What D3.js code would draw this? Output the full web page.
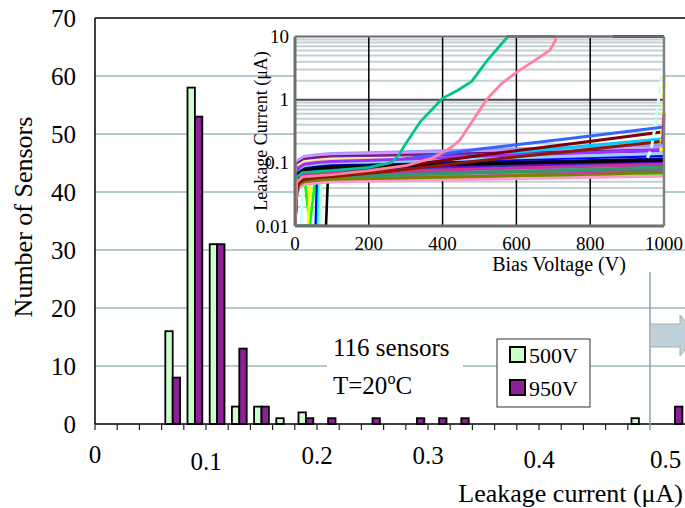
<!DOCTYPE html>
<html><head><meta charset="utf-8">
<script src="https://cdn.jsdelivr.net/npm/d3@7"></script>
<style>
body{margin:0;background:#fff}
svg{display:block}
text{font-family:"Liberation Serif","Times New Roman",serif;fill:#000}
</style>
</head><body>
<svg id="c" width="685" height="508"></svg>
<script>
// ---------- main histogram data ----------
// lower edge of each 0.02 µA bin (last one = ">0.5 µA" bin drawn beyond the axis break)
const binStarts = [0.06,0.08,0.10,0.12,0.14,0.16,0.18,0.20,0.24,0.28,0.30,0.32,0.48,0.5125];
const count500V = [16,58,31,3,3,1,2,0,0,0,0,0,1,0];
const count950V = [8,53,31,13,3,0,1,1,1,1,1,1,0,3];
const seriesNames = ["500V","950V"];
const yTickValues = [0,10,20,30,40,50,60,70];
const xTickValues = [0,0.1,0.2,0.3,0.4,0.5];
const xTickLabels = ["0","0.1","0.2","0.3","0.4","0.5"];
const annotation = ["116 sensors","T=20","o","C"];

// ---------- inset I-V curves ----------
const ivVoltage = [0,4,10,25,60,100,250,500,750,1000];
const ivRegular = [
 [.01,.077,.112,.126,.134,.14,.147,.161,.174,.19],
 [.01,.074,.108,.122,.13,.135,.14,.15,.159,.17],
 [.01,.069,.1,.113,.12,.125,.13,.14,.149,.16],
 [.01,.066,.096,.108,.115,.12,.125,.135,.144,.155],
 [.01,.063,.092,.104,.11,.115,.118,.124,.129,.135],
 [.01,.06,.088,.099,.106,.11,.113,.119,.124,.13],
 [.01,.052,.076,.086,.091,.095,.1,.109,.119,.13],
 [.01,.047,.068,.077,.082,.085,.106,.165,.245,.37],
 [.01,.044,.064,.072,.077,.08,.094,.131,.176,.24],
 [.01,.047,.068,.077,.082,.085,.088,.095,.102,.11],
 [.01,.041,.06,.068,.072,.075,.078,.085,.092,.1],
 [.01,.039,.056,.063,.067,.07,.072,.076,.08,.085],
 [.01,.036,.052,.059,.062,.065,.068,.075,.082,.09],
 [.01,.03,.044,.05,.053,.055,.058,.063,.069,.075],
 [.01,.033,.048,.054,.058,.06,.063,.068,.074,.08],
 [.01,.028,.04,.045,.048,.05,.052,.055,.058,.062],
 [.01,.03,.044,.05,.053,.055,.057,.061,.065,.07],
 [.01,.036,.052,.059,.062,.065,.067,.071,.075,.08],
 [.01,.044,.064,.072,.077,.08,.083,.09,.097,.105],
 [.01,.05,.072,.081,.086,.09,.093,.1,.107,.115],
 [.01,.041,.06,.068,.072,.075,.078,.083,.089,.095],
 [.01,.055,.08,.09,.096,.1,.105,.116,.127,.14],
 [.01,.039,.056,.063,.067,.07,.073,.08,.087,.095],
 [.01,.033,.048,.054,.058,.06,.063,.07,.077,.085],
 [.01,.058,.084,.095,.101,.105,.112,.127,.142,.16],
 [.01,.047,.068,.077,.082,.085,.089,.096,.103,.11],
 [.01,.036,.052,.059,.062,.065,.082,.131,.2,.31],
 [.01,.033,.048,.054,.058,.06,.073,.108,.153,.22]
];
const ivRegularColors = ["#9999FF","#CC99FF","#800080","#7030A0","#FFFF99","#FFCC99","#0000FF","#3366FF",
 "#00CCFF","#008080","#00CC99","#00FFFF","#33CCCC","#FF00FF","#969696","#FF99CC","#808000","#666699",
 "#6600CC","#000080","#3333CC","#99CCFF","#CC3399","#339966","#9933FF","#000000","#800000","#8B1A00"];

// curves that start near zero and switch on late (drawn underneath)
const ivLateStart = [
 [[0,.01],[17,.01],[21,.05],[60,.055],[100,.058],[250,.06],[500,.064],[750,.068],[1000,.072]],
 [[0,.01],[4,.03],[12,.045],[27,.05],[40,.01],[54,.05],[100,.055],[250,.057],[500,.06],[750,.064],[1000,.068]],
 [[0,.01],[35,.01],[41,.055],[100,.06],[250,.062],[500,.066],[750,.07],[1000,.075]],
 [[0,.01],[56,.01],[60,.06],[100,.065],[250,.067],[500,.071],[750,.075],[1000,.08]],
 [[0,.01],[62,.01],[66,.06],[100,.064],[250,.066],[500,.07],[750,.074],[1000,.078]],
 [[0,.01],[67,.01],[71,.055],[100,.058],[250,.06],[500,.063],[750,.066],[1000,.07]],
 [[0,.01],[84,.01],[90,.075],[100,.08],[250,.083],[500,.09],[750,.096],[1000,.1]]
];
const ivLateColors = ["#CCFFFF","#00FF00","#FFFF00","#0000FF","#00FFFF","#CCFFCC","#000000"];

// breakdown curves
const greenV = [0,5,20,100,200,260,280,300,340,400,440,479,520,577,705];
const greenI = [.01,.06,.07,.075,.085,.1,.13,.2,.45,1.05,1.4,1.95,4.1,10,10];
const pinkV = [0,5,20,100,200,300,374,420,447,480,519,560,600,650,691,705,708,858];
const pinkI = [.01,.05,.06,.065,.075,.09,.12,.17,.23,.45,1.0,1.8,2.7,4.2,6.1,8.4,10,10];
const redV = [860,1000];
const redI = [10,10];
const cyanV = [955,965,975,985,995,1000];
const cyanI = [.12,.16,.35,1.0,2.8,4.6];
const yellowV = [992,996,1000];
const yellowI = [.15,.5,2.3];
const purpleV = [996,1000];
const purpleI = [.2,.6];
const ivYTicks = [10,1,0.1,0.01];
const ivYLabels = ["10","1","0.1","0.01"];
const ivXTicks = [0,200,400,600,800,1000];

// ---------- drawing ----------
const W = 685;
const svg = d3.select("#c");
const x = d3.scaleLinear().domain([0,0.5]).range([95,650]);
const y = d3.scaleLinear().domain([0,70]).range([424,18]);
const binW = x(0.02)-x(0);
const barW = binW/3;

// main gridlines
svg.append("g").selectAll("line").data(yTickValues.filter(d=>d>0 && d<70)).join("line")
  .attr("x1",x(0)).attr("x2",W).attr("y1",d=>y(d)).attr("y2",d=>y(d))
  .attr("stroke","#6f949c").attr("stroke-width",1.2);
// top border
svg.append("line").attr("x1",x(0)).attr("x2",W).attr("y1",y(70)).attr("y2",y(70))
  .attr("stroke","#000").attr("stroke-width",1.5);

// ---------- inset ----------
const ix = d3.scaleLinear().domain([0,1000]).range([295,664]);
const iy = d3.scaleLog().domain([0.01,10]).range([226,36.5]);
const ins = svg.append("g");
ins.append("rect").attr("x",ix(0)).attr("y",iy(10)).attr("width",ix(1000)-ix(0)).attr("height",iy(0.01)-iy(10)).attr("fill","#fff");
const minor = [];
[0.01,0.1,1].forEach(dec=>{for(let k=2;k<=9;k++) minor.push(dec*k);});
ins.append("g").selectAll("line").data(minor).join("line")
  .attr("x1",ix(0)).attr("x2",ix(1000)).attr("y1",d=>iy(d)).attr("y2",d=>iy(d))
  .attr("stroke","#c3d0d4").attr("stroke-width",2);
ins.append("g").selectAll("line").data([0.1,1]).join("line")
  .attr("x1",ix(0)).attr("x2",ix(1000)).attr("y1",d=>iy(d)).attr("y2",d=>iy(d))
  .attr("stroke","#4a4a4a").attr("stroke-width",2);
ins.append("g").selectAll("line").data([200,400,600,800]).join("line")
  .attr("x1",d=>ix(d)).attr("x2",d=>ix(d)).attr("y1",iy(10)).attr("y2",iy(0.01))
  .attr("stroke","#000").attr("stroke-width",1.5);

ins.append("clipPath").attr("id","ivclip").append("rect")
  .attr("x",ix(0)).attr("y",iy(10)-2).attr("width",ix(1000)-ix(0)+4).attr("height",iy(0.01)-iy(10)+2);
const curves = ins.append("g").attr("clip-path","url(#ivclip)");
const line = d3.line().x(d=>ix(d[0])).y(d=>iy(d[1]));
curves.selectAll("path.late").data(ivLateStart).join("path").attr("class","late")
  .attr("d",line).attr("fill","none").attr("stroke",(d,i)=>ivLateColors[i]).attr("stroke-width",2.6);
curves.selectAll("path.reg").data(ivRegular.map(c=>c.map((v,j)=>[ivVoltage[j],v]))).join("path").attr("class","reg")
  .attr("d",line).attr("fill","none").attr("stroke",(d,i)=>ivRegularColors[i]).attr("stroke-width",3);
const pairs = (V,I)=>V.map((v,j)=>[v,I[j]]);
curves.append("path").attr("d",line(pairs(greenV,greenI))).attr("fill","none").attr("stroke","#00C48A").attr("stroke-width",2.8);
curves.append("path").attr("d",line(pairs(pinkV,pinkI))).attr("fill","none").attr("stroke","#FF809F").attr("stroke-width",2.8);
curves.append("path").attr("d",line(pairs(redV,redI))).attr("fill","none").attr("stroke","#FF0000").attr("stroke-width",2.8);
curves.append("path").attr("d",line(pairs(cyanV,cyanI))).attr("fill","none").attr("stroke","#CCFFFF").attr("stroke-width",3).attr("stroke-dasharray","7,4");
curves.append("path").attr("d",line(pairs(yellowV,yellowI))).attr("fill","none").attr("stroke","#FFFF00").attr("stroke-width",3.5).attr("stroke-dasharray","4,5");
curves.append("path").attr("d",line(pairs(purpleV,purpleI))).attr("fill","none").attr("stroke","#993399").attr("stroke-width",3);

// inset frame
ins.append("line").attr("x1",ix(0)).attr("x2",ix(1000)).attr("y1",iy(10)).attr("y2",iy(10)).attr("stroke","#6e6e6e").attr("stroke-width",2);
ins.append("line").attr("x1",ix(0)).attr("x2",ix(1000)).attr("y1",iy(0.01)).attr("y2",iy(0.01)).attr("stroke","#6e6e6e").attr("stroke-width",3);
ins.append("line").attr("x1",ix(0)).attr("x2",ix(0)).attr("y1",iy(10)).attr("y2",iy(0.01)).attr("stroke","#6e6e6e").attr("stroke-width",3);
ins.append("line").attr("x1",ix(1000)).attr("x2",ix(1000)).attr("y1",iy(10)).attr("y2",iy(0.01)).attr("stroke","#808080").attr("stroke-width",2.5);

ins.append("g").selectAll("text").data(ivYTicks).join("text")
  .attr("x",ix(0)-6).attr("y",d=>iy(d)).attr("dy","0.35em").attr("text-anchor","end")
  .style("font-size","19px").text((d,i)=>ivYLabels[i]);
ins.append("g").selectAll("text").data(ivXTicks).join("text")
  .attr("x",d=>ix(d)).attr("y",250).attr("text-anchor","middle")
  .style("font-size","19px").text(d=>d);
ins.append("text").attr("x",559).attr("y",271).attr("text-anchor","middle").style("font-size","20px").text("Bias Voltage (V)");
ins.append("text").attr("transform","translate(267,131) rotate(-90)").attr("text-anchor","middle")
  .style("font-size","18px").text("Leakage Current (\u03bcA)");

// ---------- annotation box ----------
svg.append("rect").attr("x",327).attr("y",325).attr("width",136).attr("height",78).attr("fill","#fff");
svg.append("text").attr("x",333).attr("y",356).style("font-size","25px").text(annotation[0]);
const t2 = svg.append("text").attr("x",333).attr("y",394).style("font-size","25px");
t2.append("tspan").text(annotation[1]);
t2.append("tspan").attr("dy",-10).style("font-size","16px").text(annotation[2]);
t2.append("tspan").attr("dy",10).text(annotation[3]);

// ---------- legend ----------
const legColors = ["#CCFFCC","#8E1F97"];
svg.append("rect").attr("x",497).attr("y",339).attr("width",93).attr("height",68).attr("fill","#fff").attr("stroke","#333").attr("stroke-width",1);
const lg = svg.append("g").selectAll("g").data(seriesNames).join("g").attr("transform",(d,i)=>`translate(510,${347+i*33})`);
lg.append("rect").attr("width",15).attr("height",15).attr("fill",(d,i)=>legColors[i]).attr("stroke","#000").attr("stroke-width",2);
lg.append("text").attr("x",19).attr("y",16).style("font-size","22px").text(d=>d);

// ---------- bars ----------
const bars = svg.append("g");
[count500V,count950V].forEach((arr,s)=>{
  bars.append("g").selectAll("rect").data(binStarts.map((b,i)=>({b,v:arr[i]})).filter(d=>d.v>0)).join("rect")
    .attr("x",d=>x(d.b)+barW/2+s*barW).attr("width",barW)
    .attr("y",d=>y(d.v)).attr("height",d=>y(0)-y(d.v))
    .attr("fill",legColors[s]).attr("stroke","#000").attr("stroke-width",1.8);
});

// ---------- axes ----------
svg.append("line").attr("x1",x(0)).attr("x2",W).attr("y1",y(0)).attr("y2",y(0)).attr("stroke","#000").attr("stroke-width",1.5);
svg.append("line").attr("x1",x(0)).attr("x2",x(0)).attr("y1",y(70)).attr("y2",y(0)).attr("stroke","#000").attr("stroke-width",1.5);
svg.append("g").selectAll("line").data(d3.range(0,0.4801,0.02)).join("line")
  .attr("x1",d=>x(d)).attr("x2",d=>x(d)).attr("y1",y(0)).attr("y2",y(0)+6)
  .attr("stroke","#222").attr("stroke-width",1.2);
// axis break
svg.append("line").attr("x1",x(0.5)).attr("x2",x(0.5)).attr("y1",272).attr("y2",430).attr("stroke","#8aa3ab").attr("stroke-width",1.5);
svg.append("path").attr("d",`M${x(0.5)},324 L680,324 L680,315 L697,335.5 L680,356 L680,347 L${x(0.5)},347 Z`)
  .attr("fill","#bfd0d8").attr("stroke","#9fb3ba").attr("stroke-width",1);

svg.append("g").selectAll("text").data(yTickValues).join("text")
  .attr("x",76).attr("y",d=>y(d)).attr("dy","0.35em").attr("text-anchor","end")
  .style("font-size","25px").text(d=>d);
svg.append("g").selectAll("text").data(xTickValues).join("text")
  .attr("x",d=>x(d)).attr("y",(d,i)=>[463,470,464,464,468,468][i])
  .attr("text-anchor",(d,i)=>i===xTickValues.length-1?"start":"middle")
  .style("font-size","25px").text((d,i)=>xTickLabels[i]);
svg.append("text").attr("x",683).attr("y",502).attr("text-anchor","end").style("font-size","26px").text("Leakage current (\u03bcA)");
svg.append("text").attr("transform","translate(32,217) rotate(-90)").attr("text-anchor","middle").style("font-size","26px").text("Number of Sensors");
</script>
</body></html>
